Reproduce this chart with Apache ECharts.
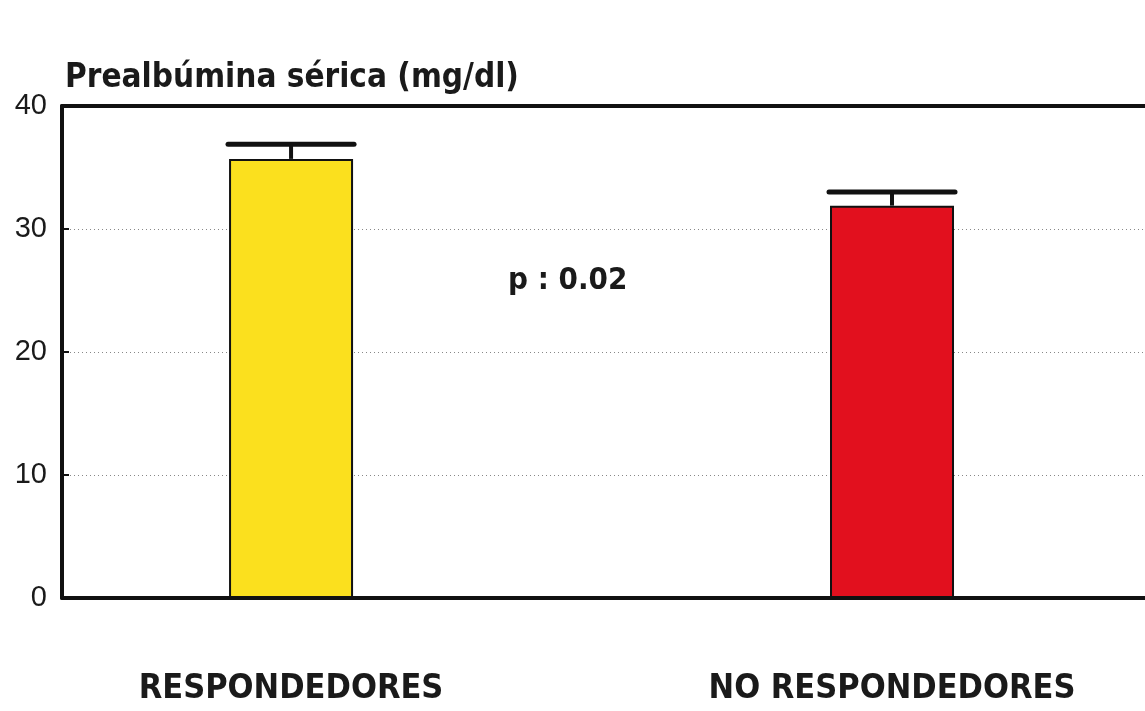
<!DOCTYPE html>
<html>
<head>
<meta charset="utf-8">
<script src="https://cdn.jsdelivr.net/npm/echarts@6/dist/echarts.min.js"></script>
<style>
  html, body { margin: 0; padding: 0; background: #ffffff; }
  #chart { width: 1145px; height: 711px; }
</style>
</head>
<body>
<div id="chart"></div>
<script>
// Serum prealbumin (mg/dl) by treatment response
const categories = ['RESPONDEDORES', 'NO RESPONDEDORES'];
const categoryPos = [21.15, 76.64];      // horizontal placement of each group on the 0-100 x scale
const meanValues = [35.7, 31.9];
const upperError = [36.9, 33.0];          // mean + error
const barColors = ['#FBE01E', '#E2101E'];
const yTicks = [0, 10, 20, 30, 40];
const pValueText = 'p : 0.02';

const condensed = '"Liberation Sans Narrow", "DejaVu Sans Condensed", "Arial Narrow", "Liberation Sans", sans-serif';

const chart = echarts.init(document.getElementById('chart'));

const barData = categories.map((c, i) => ({
  value: [categoryPos[i], meanValues[i]],
  itemStyle: { color: barColors[i] }
}));
const errData = categories.map((c, i) => [categoryPos[i], meanValues[i], upperError[i]]);

chart.setOption({
  animation: false,
  backgroundColor: '#ffffff',
  title: {
    text: 'Prealbúmina sérica (mg/dl)',
    left: 60,
    top: 57,
    textStyle: { fontFamily: condensed, fontSize: 33, fontWeight: 'bold', color: '#1a1a1a' }
  },
  graphic: [{
    type: 'text',
    left: 508,
    top: 265,
    style: { text: pValueText, font: 'bold 31px ' + condensed, fill: '#1a1a1a' }
  }],
  grid: { left: 62, right: 0, top: 106, bottom: 113 },
  xAxis: [{
    type: 'value',
    min: 0,
    max: 100,
    position: 'bottom',
    axisLine: { show: true, onZero: false, lineStyle: { color: '#111', width: 4 } },
    axisTick: { show: false },
    splitLine: { show: false },
    axisLabel: {
      customValues: categoryPos,
      formatter: v => categories[categoryPos.indexOf(v)] || '',
      margin: 74,
      fontFamily: condensed,
      fontSize: 34,
      fontWeight: 'bold',
      color: '#1a1a1a'
    }
  }, {
    type: 'value',
    min: 0,
    max: 100,
    position: 'top',
    axisLine: { show: true, onZero: false, lineStyle: { color: '#111', width: 4 } },
    axisTick: { show: false },
    axisLabel: { show: false },
    splitLine: { show: false }
  }],
  yAxis: {
    type: 'value',
    min: 0,
    max: 40,
    interval: 10,
    axisLine: { show: true, lineStyle: { color: '#111', width: 4 } },
    axisTick: { show: true, inside: true, length: 7, lineStyle: { color: '#111', width: 2 } },
    axisLabel: {
      margin: 15,
      fontFamily: '"Liberation Sans", Arial, sans-serif',
      fontSize: 29,
      color: '#1a1a1a',
      formatter: v => (yTicks.indexOf(v) >= 0 ? String(v) : '')
    },
    splitLine: { show: true, lineStyle: { color: '#888', width: 1, type: [1, 3] } }
  },
  series: [{
    type: 'bar',
    data: barData,
    barWidth: 124,
    itemStyle: { borderColor: '#111', borderWidth: 2 },
    z: 2
  }, {
    type: 'custom',
    data: errData,
    z: 3,
    renderItem: (params, api) => {
      const base = api.coord([api.value(0), api.value(1)]);
      const top = api.coord([api.value(0), api.value(2)]);
      const half = 63;
      return {
        type: 'group',
        children: [{
          type: 'line',
          shape: { x1: base[0], y1: base[1], x2: top[0], y2: top[1] },
          style: { stroke: '#111', lineWidth: 4 }
        }, {
          type: 'line',
          shape: { x1: top[0] - half, y1: top[1], x2: top[0] + half, y2: top[1] },
          style: { stroke: '#111', lineWidth: 5, lineCap: 'round' }
        }]
      };
    }
  }]
});
</script>
</body>
</html>
